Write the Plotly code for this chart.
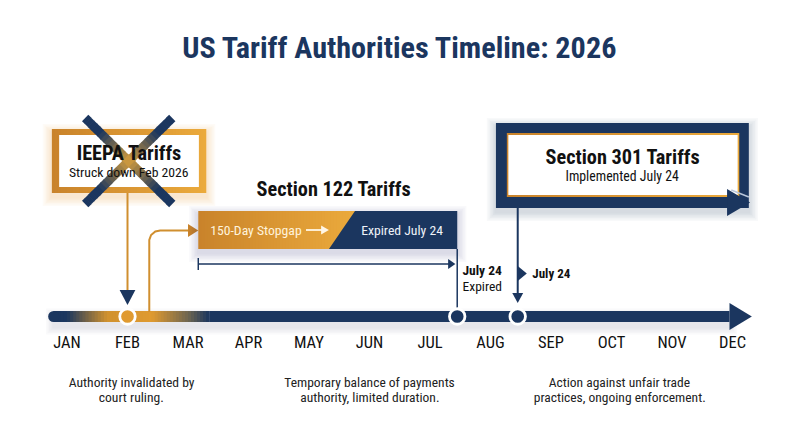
"""
US tariff authorities timeline, 2026
x axis is in months (JAN = 0), y axis is in page pixels
"""

import plotly.graph_objects as go

NAVY = "#1B365F"
ORANGE = "#E09A30"
ORANGE_DARK = "#C9832B"
ORANGE_LIGHT = "#EBAA3C"
INK = "#111111"
FONT = "Roboto"

MONTHS = ["JAN", "FEB", "MAR", "APR", "MAY", "JUN", "JUL", "AUG", "SEP", "OCT", "NOV", "DEC"]
MONTH_POS = list(range(12))

# events, in months from JAN
STRUCK_DOWN = 1.0
STOPGAP_START = 2.17
STOPGAP_SPLIT = [4.76, 4.33]
EXPIRED = 6.45
IMPLEMENTED = 7.45
ELBOW_X = 1.36

# timeline bar
LINE_START = -0.22
LINE_END = 10.95
LINE_TIP = 11.32
LINE_STOPS = [-0.22, 0.0, 0.66, 1.4, 2.0, 2.35]
LINE_COLORS = [NAVY, NAVY, "#D0922F", ORANGE, "#6F6650", NAVY]

# boxes
IEEPA_OUTER = [-0.25, 2.30]
IEEPA_INNER = [-0.13, 2.18]
S122_BOX = [STOPGAP_START, EXPIRED]
S301_OUTER = [7.09, 11.27]
S301_INNER = [7.27, 11.11]
S301_TIP = [10.91, 11.29]
CROSS_X = [0.30, 1.74]


def lerp_hex(a, b, t):
    ca = [int(a[i:i + 2], 16) for i in (1, 3, 5)]
    cb = [int(b[i:i + 2], 16) for i in (1, 3, 5)]
    return "#" + "".join(f"{round(p + (q - p) * t):02X}" for p, q in zip(ca, cb))


fig = go.Figure()


def poly(xs, ys, color):
    fig.add_trace(go.Scatter(x=xs, y=ys, mode="lines", fill="toself", fillcolor=color,
                             line=dict(width=0), hoverinfo="skip", showlegend=False))


def rect(x0, x1, y0, y1, color):
    poly([x0, x1, x1, x0, x0], [y0, y0, y1, y1, y0], color)


def line(xs, ys, color, width):
    fig.add_trace(go.Scatter(x=xs, y=ys, mode="lines", line=dict(color=color, width=width),
                             hoverinfo="skip", showlegend=False))


def gradient(stops, colors, y0, y1, step=0.05):
    # horizontal ramp made of thin overlapping slices
    for a, b, ca, cb in zip(stops, stops[1:], colors, colors[1:]):
        n = max(1, round((b - a) / step))
        for i in range(n):
            x0 = a + (b - a) * i / n
            x1 = a + (b - a) * (i + 1) / n
            rect(x0, min(x1 + 0.06, stops[-1]), y0, y1, lerp_hex(ca, cb, (i + 0.5) / n))


def glow(x0, x1, y0, y1, rgb, drop=4, layers=6, alpha=0.028):
    for i in range(layers, 0, -1):
        dx = 0.025 * i
        rect(x0 - dx, x1 + dx, y0 - 1.5 * i + drop, y1 + 1.5 * i + drop, f"rgba({rgb},{alpha})")


def dot(x, y, fill):
    fig.add_trace(go.Scatter(x=[x], y=[y], mode="markers", hoverinfo="skip", showlegend=False,
                             marker=dict(size=15.5, color=fill, line=dict(color="white", width=2.8))))


def label(x, y, text, size, color=INK, bold=False):
    fig.add_annotation(x=x, y=y, text=f"<b>{text}</b>" if bold else text, showarrow=False,
                       font=dict(family=FONT, size=size, color=color), align="center",
                       xanchor="center", yanchor="middle")


# timeline
glow(LINE_START, LINE_END, 311, 322, "27,54,95", drop=5, layers=5, alpha=0.025)
gradient(LINE_STOPS, LINE_COLORS, 311, 322)
rect(LINE_STOPS[-1], LINE_END, 311, 322, NAVY)
poly([LINE_END, LINE_TIP, LINE_END, LINE_END], [303, 316.5, 330, 303], NAVY)
fig.add_trace(go.Scatter(x=[LINE_START], y=[316.5], mode="markers", hoverinfo="skip", showlegend=False,
                         marker=dict(size=11, color=NAVY)))

# IEEPA box
glow(*IEEPA_OUTER, 129, 193, "224,154,48", alpha=0.04)
gradient(IEEPA_OUTER, [ORANGE_DARK, ORANGE_LIGHT], 129, 193)
rect(*IEEPA_INNER, 135, 187, "white")
for (x_end, y_end) in [(CROSS_X[0], 118), (CROSS_X[1], 118), (CROSS_X[0], 204), (CROSS_X[1], 204)]:
    x_mid = sum(CROSS_X) / 2
    y_mid = 161
    n = 14
    for i in range(n):
        t0, t1 = i / n, min((i + 1.15) / n, 1)
        line([x_mid + (x_end - x_mid) * t0, x_mid + (x_end - x_mid) * t1],
             [y_mid + (y_end - y_mid) * t0, y_mid + (y_end - y_mid) * t1],
             lerp_hex("#C9973F", NAVY, min(1, i / (n * 0.62))), 9)

# IEEPA drop arrow
line([STRUCK_DOWN, STRUCK_DOWN], [193, 292], "#D08F2F", 2)
poly([STRUCK_DOWN - 0.13, STRUCK_DOWN + 0.13, STRUCK_DOWN, STRUCK_DOWN - 0.13], [290, 290, 305, 290], NAVY)
dot(STRUCK_DOWN, 316.5, ORANGE)

# elbow into the stopgap
line([ELBOW_X, ELBOW_X, ELBOW_X + 0.03, ELBOW_X + 0.10, ELBOW_X + 0.18, 2.02],
     [312, 240, 235, 231.5, 230.5, 230.5], "#D08F2F", 2)
poly([2.0, STOPGAP_START, 2.0, 2.0], [224, 230.5, 237, 224], ORANGE_DARK)

# Section 122 bar
glow(*S122_BOX, 211, 249, "27,54,95")
gradient([STOPGAP_START, STOPGAP_SPLIT[0]], [ORANGE_DARK, "#EBAA3C"], 211, 249)
poly([STOPGAP_SPLIT[0], EXPIRED, EXPIRED, STOPGAP_SPLIT[1], STOPGAP_SPLIT[0]], [211, 211, 249, 249, 211], NAVY)

# stopgap arrow
line([3.95, 4.27], [230, 230], "#FFF6E6", 1.8)
poly([4.2, 4.33, 4.2, 4.2], [225.5, 230, 234.5, 225.5], "#FFF6E6")

# duration bracket
line([STOPGAP_START, STOPGAP_START], [258, 270], NAVY, 1.5)
line([STOPGAP_START, 6.32], [264, 264], NAVY, 1.5)
poly([6.3, 6.42, 6.3, 6.3], [259, 264, 269, 259], NAVY)
line([EXPIRED, EXPIRED], [249, 310], NAVY, 1.5)
dot(EXPIRED, 316.5, NAVY)

# Section 301 box
glow(*S301_OUTER, 123, 208, "27,54,95", alpha=0.032)
rect(*S301_OUTER, 123, 208, NAVY)
gradient(S301_INNER, [ORANGE_DARK, ORANGE_LIGHT], 133, 197)
rect(S301_INNER[0] + 0.025, S301_INNER[1] - 0.025, 135, 195, "white")
poly([S301_TIP[0], S301_TIP[1], S301_TIP[0], S301_TIP[0]], [189, 202.5, 216, 189], NAVY)
line([S301_TIP[0] + 0.07, S301_OUTER[1]], [190, 197], "#B9C6DA", 1.5)

# Section 301 drop arrow
line([IMPLEMENTED, IMPLEMENTED], [208, 295], NAVY, 2)
poly([IMPLEMENTED - 0.09, IMPLEMENTED + 0.09, IMPLEMENTED, IMPLEMENTED - 0.09], [293, 293, 303, 293], NAVY)
poly([IMPLEMENTED, IMPLEMENTED + 0.15, IMPLEMENTED, IMPLEMENTED], [266, 273.5, 281, 266], NAVY)
dot(IMPLEMENTED, 316.5, NAVY)

# text
label(5.5, 47.5, "US Tariff Authorities Timeline: 2026", 30.2, NAVY, True)
label(1.02, 153, "IEEPA Tariffs", 20.3, INK, True)
label(1.02, 172, "Struck down Feb 2026", 13.7, INK)
label(4.40, 189, "Section 122 Tariffs", 20.3, INK, True)
label(3.12, 230, "150-Day Stopgap", 13.7, "#FFF3DC")
label(5.54, 230, "Expired July 24", 13.7, "#EEF2F8")
label(6.86, 270, "July 24", 13.5, INK, True)
label(6.86, 286, "Expired", 13.5, INK)
label(8.0, 273, "July 24", 13, INK, True)
label(9.19, 157, "Section 301 Tariffs", 20.3, INK, True)
label(9.19, 176, "Implemented July 24", 13.8, INK)
label(1.07, 382, "Authority invalidated by", 13.6, "#222222")
label(1.07, 397, "court ruling.", 13.6, "#222222")
label(5.0, 382, "Temporary balance of payments", 13.5, "#222222")
label(5.0, 397, "authority, limited duration.", 13.5, "#222222")
label(9.14, 382, "Action against unfair trade", 13.5, "#222222")
label(9.14, 397, "practices, ongoing enforcement.", 13.5, "#222222")

fig.update_layout(
    width=800,
    height=447,
    margin=dict(l=0, r=0, t=0, b=0),
    paper_bgcolor="white",
    plot_bgcolor="white",
    showlegend=False,
)
fig.update_xaxes(
    range=[-1.1074, 12.1157],
    tickmode="array",
    tickvals=MONTH_POS,
    ticktext=MONTHS,
    tickfont=dict(family=FONT, size=16.5, color=INK),
    ticks="",
    showgrid=False,
    zeroline=False,
    showline=False,
    anchor="free",
    position=1 - 330 / 447,
    fixedrange=True,
)
fig.update_yaxes(range=[447, 0], visible=False, fixedrange=True)

# page margin off so the figure fills the window, narrower text
fig.write_html("out.html", config={"displayModeBar": False},
               post_script="document.body.style.margin='0';"
                           "var s=document.createElement('style');"
                           "s.textContent='svg text{font-stretch:75%}';"
                           "document.head.appendChild(s);")
